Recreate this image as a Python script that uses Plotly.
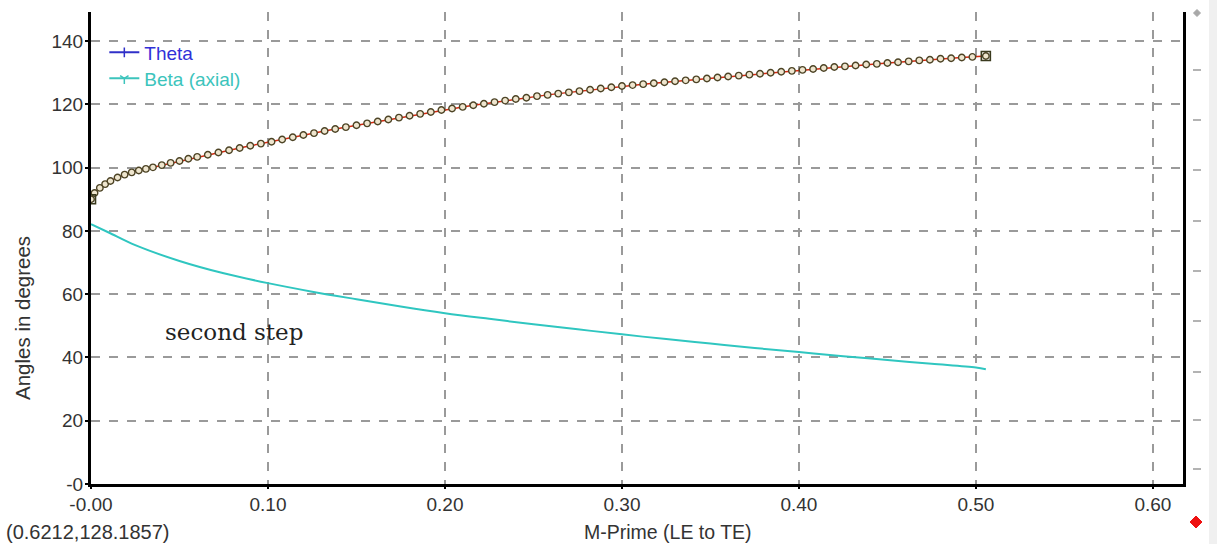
import plotly.graph_objects as go

# ---- data ----
theta_x = [0.0, 0.002, 0.005, 0.008, 0.011, 0.015, 0.019, 0.023, 0.027, 0.031, 0.035,
           0.040, 0.045, 0.050, 0.055, 0.060, 0.066, 0.072, 0.078, 0.084, 0.090, 0.096,
           0.102, 0.108, 0.114, 0.120, 0.126, 0.132, 0.138, 0.144, 0.150, 0.156, 0.162,
           0.168, 0.174, 0.180, 0.186, 0.192, 0.198, 0.204, 0.210, 0.216, 0.222, 0.228,
           0.234, 0.240, 0.246, 0.252, 0.258, 0.264, 0.270, 0.276, 0.282, 0.288, 0.294,
           0.300, 0.306, 0.312, 0.318, 0.324, 0.330, 0.336, 0.342, 0.348, 0.354, 0.360,
           0.366, 0.372, 0.378, 0.384, 0.390, 0.396, 0.402, 0.408, 0.414, 0.420, 0.426,
           0.432, 0.438, 0.444, 0.450, 0.456, 0.462, 0.468, 0.474, 0.480, 0.486, 0.492,
           0.498, 0.5056]
theta_y = [90.0, 92.0, 93.6, 94.8, 95.8, 96.9, 97.8, 98.5, 99.1, 99.6, 100.1,
           100.8, 101.5, 102.1, 102.8, 103.4, 104.1, 104.8, 105.5, 106.2, 106.9, 107.6,
           108.2, 108.9, 109.6, 110.3, 110.9, 111.6, 112.2, 112.8, 113.4, 114.0, 114.6,
           115.2, 115.8, 116.4, 117.0, 117.6, 118.2, 118.7, 119.2, 119.7, 120.2, 120.7,
           121.2, 121.7, 122.1, 122.6, 123.0, 123.4, 123.8, 124.2, 124.6, 125.0, 125.4,
           125.8, 126.1, 126.4, 126.7, 127.0, 127.3, 127.6, 127.9, 128.2, 128.5, 128.8,
           129.1, 129.4, 129.7, 130.0, 130.3, 130.6, 130.9, 131.2, 131.5, 131.8, 132.0,
           132.3, 132.6, 132.8, 133.1, 133.3, 133.6, 133.9, 134.1, 134.4, 134.6, 134.8,
           135.0, 135.3]

beta_x = [0.0, 0.01, 0.025, 0.05, 0.075, 0.10, 0.125, 0.15, 0.175, 0.20, 0.225, 0.25,
          0.275, 0.30, 0.325, 0.35, 0.375, 0.40, 0.425, 0.45, 0.475, 0.50, 0.5056]
beta_y = [82.1, 79.5, 75.5, 70.5, 66.6, 63.5, 60.8, 58.4, 56.1, 54.0, 52.2, 50.5,
          48.9, 47.3, 45.8, 44.4, 43.0, 41.7, 40.4, 39.2, 38.0, 36.8, 36.3]

x_ticks = [0.0, 0.1, 0.2, 0.3, 0.4, 0.5, 0.6]
x_tick_text = ["-0.00", "0.10", "0.20", "0.30", "0.40", "0.50", "0.60"]
y_ticks = [0, 20, 40, 60, 80, 100, 120, 140]
y_tick_text = ["-0", "20", "40", "60", "80", "100", "120", "140"]

# ---- figure ----
fig = go.Figure()

fig.add_trace(go.Scatter(x=beta_x, y=beta_y, mode="lines", line=dict(color="#2fc6c0", width=2),
                         line_shape="spline", showlegend=False, hoverinfo="skip"))
fig.add_trace(go.Scatter(x=theta_x, y=theta_y, mode="lines+markers",
                         line=dict(color="#d42a10", width=1.5),
                         marker=dict(symbol="circle", size=6.5, color="#efe6cf",
                                     line=dict(color="#4d4426", width=1.4)),
                         showlegend=False, hoverinfo="skip"))
fig.add_trace(go.Scatter(x=[theta_x[0], theta_x[-1]], y=[theta_y[0], theta_y[-1]], mode="markers",
                         marker=dict(symbol="square-open", size=9, color="#3a3a1e",
                                     line=dict(width=1.6)),
                         showlegend=False, hoverinfo="skip"))

# legend entries (two legends so that their spacing matches the reference)
fig.add_trace(go.Scatter(x=[None], y=[None], mode="lines+markers", legend="legend",
                         name="<span style='color:#3030d8'>Theta</span>",
                         line=dict(color="#3030c8", width=2),
                         marker=dict(symbol="line-ns-open", size=7, color="#3030c8",
                                     line=dict(width=1.5, color="#3030c8"))))
fig.add_trace(go.Scatter(x=[None], y=[None], mode="lines+markers", legend="legend2",
                         name="<span style='color:#3cc4bc'>Beta (axial)</span>",
                         line=dict(color="#3cc4bc", width=2),
                         marker=dict(symbol="y-down-open", size=7, color="#3cc4bc",
                                     line=dict(width=1.5, color="#3cc4bc"))))

FONT = "Arial, Liberation Sans, sans-serif"
tick_font = dict(family=FONT, size=19, color="#333333")

fig.update_xaxes(range=[0, 0.617], tickvals=x_ticks, ticktext=x_tick_text,
                 showgrid=True, gridcolor="#9a9a9a", griddash="dash", gridwidth=1.5,
                 showline=True, linecolor="black", linewidth=3, mirror=False,
                 ticks="outside", ticklen=2, tickcolor="black", tickwidth=2,
                 ticklabelstandoff=-1,
                 zeroline=False, tickfont=tick_font, automargin=False)
fig.update_yaxes(range=[0, 149.2], tickvals=y_ticks, ticktext=y_tick_text,
                 showgrid=True, gridcolor="#9a9a9a", griddash="dash", gridwidth=1.5,
                 showline=True, linecolor="black", linewidth=3, mirror=True,
                 ticks="outside", ticklen=3, tickcolor="black", tickwidth=2,
                 ticklabelstandoff=-2,
                 zeroline=False, tickfont=tick_font, automargin=False)

TOP, BOTTOM = 12, 484


def px(v):
    return (v - 91) / 1092


def py(v):
    return (BOTTOM - v) / (BOTTOM - TOP)


# axis titles (placed where the reference has them)
fig.add_annotation(x=px(668), y=py(532), xref="paper", yref="paper", text="M-Prime (LE to TE)",
                   showarrow=False, xanchor="center", yanchor="middle",
                   font=dict(family=FONT, size=19.5, color="#333333"))
fig.add_annotation(x=px(22), y=py(318), xref="paper", yref="paper", text="Angles in degrees",
                   showarrow=False, textangle=-90, xanchor="center", yanchor="middle",
                   font=dict(family=FONT, size=20.5, color="#333333"))

fig.add_annotation(x=0.0808, y=47.9, xref="x", yref="y", text="second step", showarrow=False,
                   font=dict(family="DejaVu Serif, serif", size=23, color="#222222"))
fig.add_annotation(x=px(4), y=py(532), xref="paper", yref="paper",
                   xanchor="left", yanchor="middle", text="(0.6212,128.1857)", showarrow=False,
                   font=dict(family=FONT, size=20, color="#333333"))

# right side decorations (toolbar-like)
shapes = []
for yy in [70, 120, 170, 221, 271, 321, 372, 420, 469]:
    shapes.append(dict(type="line", xref="paper", yref="paper", x0=px(1193), x1=px(1201),
                       y0=py(yy), y1=py(yy), line=dict(color="#9a9a9a", width=1.5)))
shapes.append(dict(type="rect", xref="paper", yref="paper", x0=px(1209), x1=px(1217),
                   y0=py(0), y1=py(544), fillcolor="#f0f0f0", line=dict(width=0), layer="below"))


def diamond(cx, cy, r, color):
    return dict(type="path", xref="paper", yref="paper",
                path=(f"M {px(cx)} {py(cy - r)} L {px(cx + r)} {py(cy)} "
                      f"L {px(cx)} {py(cy + r)} L {px(cx - r)} {py(cy)} Z"),
                fillcolor=color, line=dict(color=color, width=1))


shapes.append(diamond(1197, 13, 3.5, "#a8a8a8"))
shapes.append(diamond(1196, 522, 6, "#ee1111"))

leg_common = dict(xanchor="left", yanchor="top", bgcolor="rgba(0,0,0,0)",
                  font=dict(family=FONT, size=19), itemwidth=30)
fig.update_layout(
    shapes=shapes,
    width=1217, height=544,
    margin=dict(l=91, r=34, t=TOP, b=544 - BOTTOM),
    paper_bgcolor="white", plot_bgcolor="white",
    legend=dict(x=0.0122, y=py(33.5), **leg_common),
    legend2=dict(x=0.0122, y=py(59.5), **leg_common),
    font=dict(family=FONT),
)

fig.write_html("out.html", config={"displayModeBar": False},
               post_script="document.body.style.margin='0';")
